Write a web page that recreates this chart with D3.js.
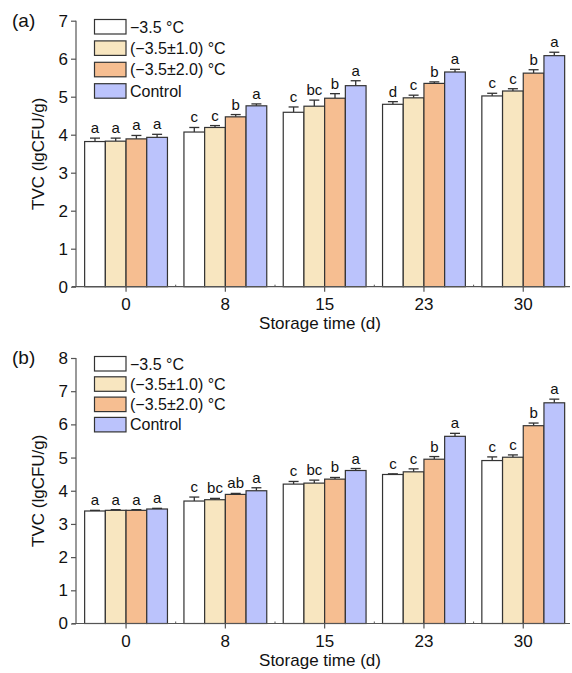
<!DOCTYPE html>
<html><head><meta charset="utf-8">
<script src="https://cdn.jsdelivr.net/npm/d3@7"></script>
<style>body{margin:0;background:#fff}svg{display:block;font-family:Arial,"Liberation Sans",sans-serif}</style>
</head><body><svg id="c" width="572" height="673"></svg>
<script>
const days = ["0","8","15","23","30"];
const series = ["−3.5 °C","(−3.5±1.0) °C","(−3.5±2.0) °C","Control"];
const colors = ["#ffffff","#f8e6c0","#f6be91","#bbc3fc"];
// panel (a)
const aVals = [[3.82,4.07,4.59,4.80,5.02],[3.83,4.19,4.75,4.97,5.15],[3.89,4.47,4.96,5.35,5.62],[3.93,4.76,5.29,5.65,6.08]];
const aErr  = [[0.09,0.12,0.14,0.07,0.07],[0.08,0.05,0.16,0.07,0.06],[0.09,0.06,0.12,0.04,0.09],[0.08,0.05,0.13,0.07,0.09]];
const aLet  = [["a","c","c","d","c"],["a","c","bc","c","c"],["a","b","b","b","b"],["a","a","a","a","a"]];
const aTicks = [0,1,2,3,4,5,6,7];
// panel (b)
const bVals = [[3.39,3.69,4.20,4.49,4.91],[3.41,3.73,4.23,4.57,5.01],[3.41,3.89,4.35,4.95,5.96],[3.45,4.00,4.61,5.64,6.65]];
const bErr  = [[0.02,0.12,0.08,0.02,0.11],[0.02,0.04,0.09,0.09,0.07],[0.02,0.03,0.05,0.08,0.08],[0.02,0.09,0.06,0.09,0.11]];
const bLet  = [["a","c","c","c","c"],["a","bc","bc","c","c"],["a","ab","b","b","b"],["a","a","a","a","a"]];
const bTicks = [0,1,2,3,4,5,6,7,8];

const svg = d3.select("#c");
const axisCol = "#555";
const x = d3.scaleBand().domain(days).range([76.4, 572.9]).padding(0);
const bw = x.bandwidth();
const xs = d3.scaleBand().domain(series).range([bw*0.083, bw*0.917]).padding(0);

function panel(label, vals, errs, lets, ticks, ymax, y0, y1, legTop, legStep, labY) {
  const g = svg.append("g");
  const y = d3.scaleLinear().domain([0, ymax]).range([y0, y1]);
  series.forEach((s, si) => {
    days.forEach((d, di) => {
      const v = vals[si][di], e = errs[si][di];
      const bx = x(d) + xs(s), w = xs.bandwidth();
      const cx = bx + w/2;
      g.append("line").attr("x1", cx).attr("x2", cx).attr("y1", y(v)).attr("y2", y(v+e))
        .attr("stroke", "#333").attr("stroke-width", 1.3);
      g.append("line").attr("x1", cx-5).attr("x2", cx+5).attr("y1", y(v+e)).attr("y2", y(v+e))
        .attr("stroke", "#333").attr("stroke-width", 1.3);
      g.append("rect").attr("x", bx).attr("y", y(v)).attr("width", w).attr("height", y(0)-y(v))
        .attr("fill", colors[si]).attr("stroke", "#333").attr("stroke-width", 1.2);
      g.append("text").attr("x", cx).attr("y", y(v+e) - 5).attr("text-anchor", "middle")
        .attr("font-size", 15).attr("fill", "#111").text(lets[si][di]);
    });
  });
  const ya = g.append("g").attr("transform", "translate(76,0)")
    .call(d3.axisLeft(y).tickValues(ticks).tickFormat(d3.format("d")).tickSize(5).tickPadding(3));
  ya.select(".domain").attr("stroke", axisCol).attr("stroke-width", 1.2).attr("d", `M-0,${y0}V${y(ymax)}`);
  ya.selectAll(".tick line").attr("stroke", axisCol).attr("stroke-width", 1.2);
  ya.selectAll(".tick text").attr("font-size", 17).attr("fill", "#111").attr("font-family", "Arial, Liberation Sans, sans-serif");
  const xa = g.append("g").attr("transform", `translate(0,${y0})`)
    .call(d3.axisBottom(x).tickSize(5).tickPadding(6));
  xa.select(".domain").attr("stroke", axisCol).attr("stroke-width", 1.2).attr("d", "M72,0H570");
  xa.selectAll(".tick line").attr("stroke", axisCol).attr("stroke-width", 1.2);
  xa.selectAll(".tick text").attr("font-size", 17).attr("fill", "#111").attr("font-family", "Arial, Liberation Sans, sans-serif");
  days.slice(1).forEach(d => {
    g.append("line").attr("x1", x(d)).attr("x2", x(d)).attr("y1", y0).attr("y2", y0-2)
      .attr("stroke", axisCol).attr("stroke-width", 1);
  });
  g.append("text").attr("x", 320).attr("y", y0 + 42).attr("text-anchor", "middle")
    .attr("font-size", 17).attr("fill", "#111").text("Storage time (d)");
  g.append("text").attr("transform", `translate(44,${(y0+y(ymax))/2}) rotate(-90)`)
    .attr("text-anchor", "middle").attr("font-size", 17).attr("fill", "#111").text("TVC (lgCFU/g)");
  g.append("text").attr("x", 12).attr("y", labY).attr("font-size", 19).attr("fill", "#111").text(label);
  series.forEach((s, si) => {
    const ly = legTop + si*legStep;
    g.append("rect").attr("x", 94.5).attr("y", ly).attr("width", 31.5).attr("height", 14.5)
      .attr("fill", colors[si]).attr("stroke", "#333").attr("stroke-width", 1.2);
    g.append("text").attr("x", 130).attr("y", ly + 13).attr("font-size", 16).attr("fill", "#111").text(s);
  });
}
panel("(a)", aVals, aErr, aLet, aTicks, 7, 286.7, 20.7, 19.5, 21.4, 27);
panel("(b)", bVals, bErr, bLet, bTicks, 8, 623.5, 358, 356.5, 20.3, 364);
</script></body></html>
